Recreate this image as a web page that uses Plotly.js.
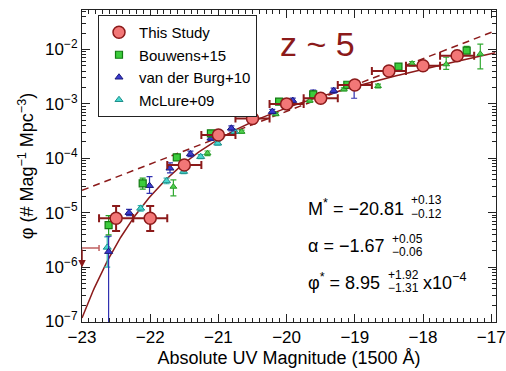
<!DOCTYPE html>
<html>
<head>
<meta charset="utf-8">
<script src="https://cdn.plot.ly/plotly-3.0.1.min.js"></script>
<style>html,body{margin:0;padding:0;background:#fff;}#chart{width:506px;height:371px;}</style>
</head>
<body>
<div id="chart"></div>
<script>
// ---------- DATA ----------
// This Study (Finkelstein+15, z~5)
const M_this = [-22.5, -22.0, -21.5, -21.0, -20.5, -20.0, -19.5, -19.0, -18.5, -18.0, -17.5];
const phi_this = [7.9e-6, 7.9e-6, 7.5e-5, 2.68e-4, 5.4e-4, 1.0e-3, 1.27e-3, 2.22e-3, 4.03e-3, 5.04e-3, 7.7e-3];
const phi_this_hi = [1.33e-5, 1.33e-5, 8.7e-5, 3.0e-4, 6.0e-4, 1.1e-3, 1.4e-3, 2.45e-3, 4.4e-3, 5.5e-3, 8.5e-3];
const phi_this_lo = [4.6e-6, 4.6e-6, 6.4e-5, 2.4e-4, 4.9e-4, 9.0e-4, 1.15e-3, 2.0e-3, 3.7e-3, 4.6e-3, 7.0e-3];
const binHalf_this = [0.25, 0.25, 0.25, 0.25, 0.25, 0.25, 0.25, 0.25, 0.25, 0.25, 0.25];
// This Study upper limit
const M_ul = [-23.0];
const phi_ul = [2.25e-6];
const binHalf_ul = [0.25];

// Bouwens+15
const M_b15 = [-22.61, -22.11, -21.61, -21.11, -20.61, -20.11, -19.61, -19.11, -18.36, -17.36];
const phi_b15 = [5.9e-6, 3.47e-5, 1.04e-4, 2.88e-4, 7.2e-4, 1.1e-3, 1.5e-3, 2.25e-3, 4.83e-3, 9.5e-3];
const phi_b15_hi = [8.8e-6, 4.3e-5, 1.15e-4, 3.1e-4, 7.7e-4, 1.17e-3, 1.6e-3, 2.4e-3, 5.2e-3, 1.14e-2];
const phi_b15_lo = [3.9e-6, 2.7e-5, 9.3e-5, 2.66e-4, 6.7e-4, 1.03e-3, 1.4e-3, 2.1e-3, 4.5e-3, 8.7e-3];

// van der Burg+10
const M_vdb = [-22.61, -22.31, -22.01, -21.71, -21.41, -21.11, -20.81, -20.51, -20.21, -19.91, -19.61, -19.31, -19.01];
const phi_vdb = [1.92e-6, 1.0e-5, 3.13e-5, 6.55e-5, 1.2e-4, 2.33e-4, 3.56e-4, 5.5e-4, 7.2e-4, 1.15e-3, 1.57e-3, 1.75e-3, 2.0e-3];
const phi_vdb_hi = [3.7e-6, 1.15e-5, 4.6e-5, 8.2e-5, 1.35e-4, 2.55e-4, 3.95e-4, 6.0e-4, 7.9e-4, 1.28e-3, 1.8e-3, 1.95e-3, 2.25e-3];
const phi_vdb_lo = [1e-9, 8.8e-6, 2.27e-5, 5.4e-5, 1.07e-4, 2.13e-4, 3.2e-4, 5.0e-4, 6.6e-4, 1.04e-3, 1.4e-3, 1.58e-3, 1.27e-3];

// McLure+09
const M_mc = [-22.63, -22.14, -21.76, -21.51, -21.26, -21.01, -20.76];
const phi_mc = [2.3e-6, 1.2e-5, 3.83e-5, 5.7e-5, 1.07e-4, 1.89e-4, 3.08e-4];
const phi_mc_hi = [3.6e-6, 1.35e-5, 4.3e-5, 6.3e-5, 1.17e-4, 2.05e-4, 3.3e-4];
const phi_mc_lo = [1.0e-6, 1.07e-5, 3.4e-5, 5.2e-5, 9.8e-5, 1.75e-4, 2.88e-4];

// Additional literature points (green triangles, not in legend)
const M_b07 = [-21.66, -21.16, -20.66, -20.16, -19.66, -19.16, -18.66, -18.16, -17.66, -17.16];
const phi_b07 = [3.0e-5, 1.24e-4, 3.08e-4, 6.5e-4, 1.15e-3, 1.85e-3, 2.13e-3, 5.5e-3, 5.35e-3, 8.3e-3];
const phi_b07_hi = [4.0e-5, 1.36e-4, 3.3e-4, 6.9e-4, 1.23e-3, 1.97e-3, 2.3e-3, 6.0e-3, 7.2e-3, 1.26e-2];
const phi_b07_lo = [2.03e-5, 1.12e-4, 2.88e-4, 6.1e-4, 1.07e-3, 1.73e-3, 1.97e-3, 5.0e-3, 4.3e-3, 4.4e-3];

// Schechter fit parameters
const Mstar = -20.81, alpha = -1.67, phiStar = 8.95e-4;
// Dashed power-law line parameters (log phi at M = -23, slope in dex/mag)
const plNormLog = -4.59, plRefM = -23.0, plSlope = 0.484;

// Tick labels
const xTickVals = [-23, -22, -21, -20, -19, -18, -17];
const xTickText = ['\u221223', '\u221222', '\u221221', '\u221220', '\u221219', '\u221218', '\u221217'];
const yTickVals = [1e-7, 1e-6, 1e-5, 1e-4, 1e-3, 1e-2];
const yTickText = ['10<sup>\u22127</sup>', '10<sup>\u22126</sup>', '10<sup>\u22125</sup>', '10<sup>\u22124</sup>', '10<sup>\u22123</sup>', '10<sup>\u22122</sup>'];

// ---------- BUILD ----------
const XR = [-23, -16.93], YR = [-7.01, -1.274];
const FONT = 'Liberation Sans, Arial, Helvetica, sans-serif';
const DR = '#8b1a1a';

const plus = (hi, v) => hi.map((h, i) => h - v[i]);
const minus = (lo, v) => lo.map((l, i) => v[i] - l);

const curveM = [], schY = [], plY = [];
for (let m = XR[0]; m <= XR[1] + 1e-9; m += 0.02) {
  curveM.push(m);
  const t = Math.pow(10, -0.4 * (m - Mstar));
  schY.push(0.4 * Math.LN10 * phiStar * Math.pow(t, alpha + 1) * Math.exp(-t));
  plY.push(Math.pow(10, plNormLog + plSlope * (m - plRefM)));
}

// log-axis minor tick positions (2..9 x 10^n)
const yMinor = [];
for (let e = -8; e <= -1; e++) for (let d = 2; d <= 9; d++) yMinor.push(d * Math.pow(10, e));

function errY(hi, lo, v, color, th, w) {
  return {type: 'data', symmetric: false, array: plus(hi, v), arrayminus: minus(lo, v), color: color, thickness: th, width: w};
}

const traces = [
  {x: curveM, y: plY, mode: 'lines', line: {color: DR, width: 1.5, dash: '7px,5px'}, showlegend: false, hoverinfo: 'skip'},
  {x: curveM, y: schY, mode: 'lines', line: {color: DR, width: 1.5}, showlegend: false, hoverinfo: 'skip'},
  {x: M_b07, y: phi_b07, mode: 'markers', showlegend: false,
   marker: {symbol: 'triangle-up', size: 6, color: '#4fd14f', line: {color: '#2a9a2a', width: 1}},
   error_y: errY(phi_b07_hi, phi_b07_lo, phi_b07, '#33aa33', 1.2, 3)},
  {x: M_mc, y: phi_mc, mode: 'markers', name: 'McLure+09', legendrank: 4,
   marker: {symbol: 'triangle-up', size: 7, color: '#45d6cf', line: {color: '#1f8f8a', width: 1}},
   error_y: errY(phi_mc_hi, phi_mc_lo, phi_mc, '#30b8b0', 1.2, 3)},
  {x: M_vdb, y: phi_vdb, mode: 'markers', name: 'van der Burg+10', legendrank: 3,
   marker: {symbol: 'triangle-up', size: 7, color: '#3a3ad0', line: {color: '#1a1a7a', width: 1}},
   error_y: errY(phi_vdb_hi, phi_vdb_lo, phi_vdb, '#3030b0', 1.2, 3)},
  {x: M_b15, y: phi_b15, mode: 'markers', name: 'Bouwens+15', legendrank: 2,
   marker: {symbol: 'square', size: 7, color: '#3ccc3c', line: {color: '#137a13', width: 1.2}},
   error_y: errY(phi_b15_hi, phi_b15_lo, phi_b15, '#22a022', 1.2, 3)},
  {x: M_ul, y: phi_ul, mode: 'none', showlegend: false, hoverinfo: 'skip',
   error_x: {type: 'data', array: binHalf_ul, color: '#c06060', thickness: 1.5, width: 3}},
  {x: M_this, y: phi_this, mode: 'markers', name: 'This Study', legendrank: 1,
   marker: {symbol: 'circle', size: 12, color: '#f27777', line: {color: DR, width: 1.5}},
   error_x: {type: 'data', array: binHalf_this, color: DR, thickness: 2, width: 4},
   error_y: errY(phi_this_hi, phi_this_lo, phi_this, DR, 2, 4)}
];

const px = p => (p - 82) / 414;
const py = p => (322 - p) / 312;
function ann(text, x, y, size, color, anchor) {
  return {text: text, xref: 'paper', yref: 'paper', x: px(x), y: py(y), xanchor: anchor || 'left', yanchor: 'middle',
          showarrow: false, font: {family: FONT, size: size, color: color || '#000'}};
}

const annotations = [
  ann('z ~ 5', 317, 44, 34, DR, 'center'),
  ann('M<sup>*</sup> = \u221220.81', 306, 207, 18),
  ann('+0.13', 409, 200, 12),
  ann('\u22120.12', 409, 214, 12),
  ann('\u03b1 = \u22121.67', 306, 246, 18),
  ann('+0.05', 390, 238.5, 12),
  ann('\u22120.06', 390, 252, 12),
  ann('\u03c6<sup>*</sup> = 8.95', 306, 281, 18),
  ann('+1.92', 386, 275, 12),
  ann('\u22121.31', 386, 288, 12),
  ann('x10<sup>\u22124</sup>', 421, 281, 18),
  // upper-limit arrow (This Study, brightest bin)
  {x: M_ul[0], y: Math.log10(phi_ul[0]) - 0.36, ax: M_ul[0], ay: Math.log10(phi_ul[0]),
   xref: 'x', yref: 'y', axref: 'x', ayref: 'y', text: '', showarrow: true,
   arrowhead: 2, arrowsize: 1, arrowwidth: 1.5, arrowcolor: DR}
];

const axisCommon = {
  showline: true, linecolor: '#222', linewidth: 1, mirror: 'ticks', ticks: 'inside',
  tickcolor: '#222', ticklen: 8, tickwidth: 1, showgrid: false, zeroline: false,
  tickfont: {family: FONT, size: 17, color: '#000'}, ticklabeloverflow: 'allow'
};

const layout = {
  width: 506, height: 371,
  margin: {l: 82, r: 10, t: 10, b: 49},
  paper_bgcolor: '#fff', plot_bgcolor: '#fff',
  font: {family: FONT, color: '#000'},
  xaxis: Object.assign({}, axisCommon, {
    range: XR, tickmode: 'array', tickvals: xTickVals, ticktext: xTickText,
    minor: {dtick: 0.1, ticks: 'inside', ticklen: 4, tickcolor: '#222', showgrid: false},
    title: {text: 'Absolute UV Magnitude (1500 \u00c5)', font: {family: FONT, size: 18}, standoff: 4}
  }),
  yaxis: Object.assign({}, axisCommon, {
    type: 'log', range: YR, tickmode: 'array', tickvals: yTickVals, ticktext: yTickText,
    minor: {tickmode: 'array', tickvals: yMinor, ticks: 'inside', ticklen: 4, tickcolor: '#222', showgrid: false},
    title: {text: '\u03c6 (# Mag<sup>\u22121</sup> Mpc<sup>\u22123</sup>)', font: {family: FONT, size: 18}, standoff: 6}
  }),
  legend: {x: px(98), y: py(15), xanchor: 'left', yanchor: 'top', bgcolor: '#fff', bordercolor: '#222', borderwidth: 1,
           font: {family: FONT, size: 15, color: '#000'}, traceorder: 'normal'},
  annotations: annotations,
  showlegend: true
};

Plotly.newPlot('chart', traces, layout, {staticPlot: true, displayModeBar: false});
</script>
</body>
</html>
